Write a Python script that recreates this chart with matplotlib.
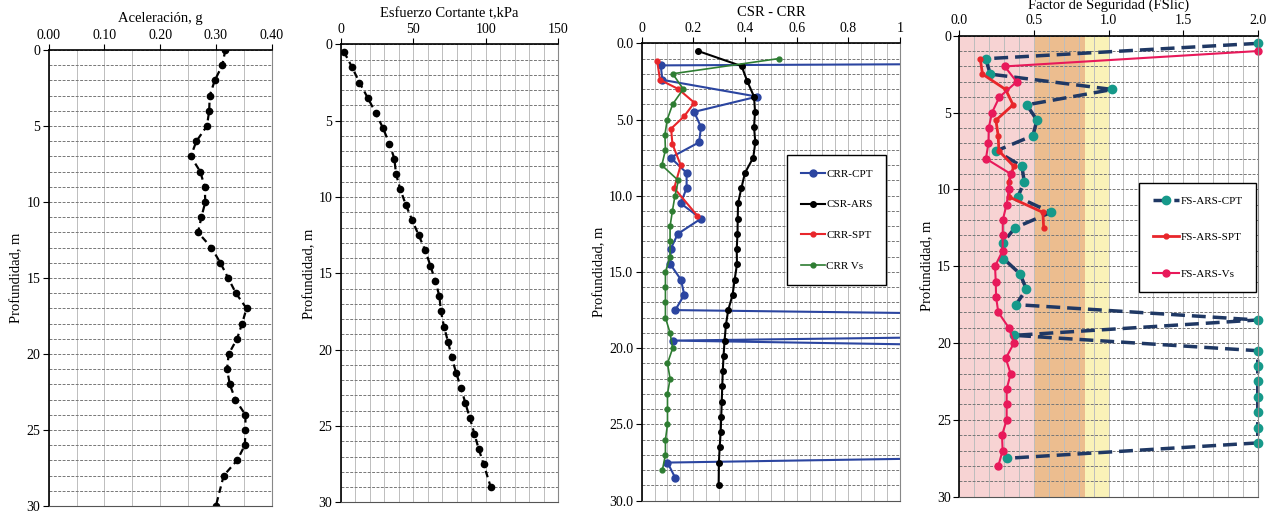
import matplotlib
matplotlib.use("Agg")
import matplotlib.pyplot as plt
from matplotlib.ticker import MultipleLocator, FormatStrFormatter

plt.rcParams["font.family"] = ["Liberation Serif", "DejaVu Serif"]

# --- Aceleracion ---
depth_acel = [0, 1, 2, 3, 4, 5, 6, 7, 8, 9, 10, 11, 12, 13, 14, 15, 16, 17, 18,
              19, 20, 21, 22, 23, 24, 25, 26, 27, 28, 30]
acel = [0.317, 0.3115, 0.298, 0.289, 0.288, 0.284, 0.265, 0.255, 0.272, 0.280,
        0.281, 0.274, 0.268, 0.292, 0.308, 0.322, 0.336, 0.355, 0.347, 0.338,
        0.323, 0.320, 0.325, 0.335, 0.353, 0.353, 0.352, 0.338, 0.314, 0.300]

# --- Esfuerzo cortante ---
depth_tau = [0.5, 1.5, 2.5, 3.5, 4.5, 5.5, 6.5, 7.5, 8.5, 9.5, 10.5, 11.5, 12.5,
             13.5, 14.5, 15.5, 16.5, 17.5, 18.5, 19.5, 20.5, 21.5, 22.5, 23.5,
             24.5, 25.5, 26.5, 27.5, 29.0]
tau = [2.3, 7.8, 12.9, 18.6, 24.1, 29.2, 33.5, 37.0, 38.1, 41.1, 44.8, 49.2,
       53.7, 58.3, 61.8, 65.2, 68.0, 69.1, 71.2, 74.0, 76.5, 79.5, 82.9, 85.9,
       89.1, 92.1, 95.1, 98.5, 103.4]

# --- CSR - CRR ---
depth_csr = depth_tau
csr_ars = [0.217, 0.387, 0.409, 0.435, 0.439, 0.435, 0.440, 0.432, 0.400, 0.386,
           0.373, 0.372, 0.371, 0.368, 0.369, 0.360, 0.352, 0.335, 0.326, 0.321,
           0.317, 0.314, 0.312, 0.310, 0.308, 0.306, 0.302, 0.299, 0.298]

depth_cpt = [0.5, 1.45, 2.4, 3.5, 4.5, 5.5, 6.5, 7.5, 8.5, 9.5, 10.5, 11.5, 12.5,
             13.5, 14.5, 15.5, 16.5, 17.5, 18.5, 19.5, 20.5, 21.5, 22.5, 23.5,
             24.5, 25.5, 26.5, 27.5, 28.5]
crr_cpt = [12.6, 0.074, 0.080, 0.447, 0.203, 0.230, 0.222, 0.112, 0.174, 0.174,
           0.151, 0.230, 0.140, 0.112, 0.111, 0.152, 0.165, 0.130, 4.8, 0.120,
           3.8, 4.0, 4.0, 4.0, 4.0, 4.0, 3.85, 0.100, 0.130]

depth_spt = [1.15, 2.4, 3.0, 3.9, 4.8, 5.6, 6.6, 8.0, 9.5, 11.3]
crr_spt = [0.060, 0.071, 0.142, 0.204, 0.164, 0.114, 0.119, 0.151, 0.126, 0.215]

depth_vs = [1, 2, 3, 4, 5, 6, 7, 8, 9, 10, 11, 12, 13, 14, 15, 16, 17, 18, 19,
            20, 21, 22, 23, 24, 25, 26, 27, 28]
crr_vs = [0.533, 0.120, 0.161, 0.120, 0.099, 0.090, 0.092, 0.078, 0.142, 0.129,
          0.119, 0.110, 0.110, 0.110, 0.092, 0.092, 0.092, 0.092, 0.110, 0.120,
          0.100, 0.110, 0.100, 0.100, 0.100, 0.092, 0.092, 0.080]

# --- Factor de seguridad ---
depth_fs_cpt = [0.5, 1.5, 2.5, 3.5, 4.5, 5.5, 6.5, 7.5, 8.5, 9.5, 10.5, 11.5,
                12.5, 13.5, 14.5, 15.5, 16.5, 17.5, 18.5, 19.5, 20.5, 21.5,
                22.5, 23.5, 24.5, 25.5, 26.5, 27.5]
fs_cpt = [2.0, 0.177, 0.207, 1.026, 0.452, 0.520, 0.493, 0.247, 0.419, 0.435,
          0.392, 0.613, 0.373, 0.290, 0.295, 0.407, 0.449, 0.380, 2.0, 0.369,
          2.0, 2.0, 2.0, 2.0, 2.0, 2.0, 2.0, 0.322]

depth_fs_spt = [1.5, 2.5, 3.5, 4.5, 5.5, 6.5, 7.5, 8.5, 9.5, 10.5, 11.5, 12.5]
fs_spt = [0.140, 0.155, 0.310, 0.360, 0.245, 0.260, 0.265, 0.365, 0.330, 0.335,
          0.560, 0.565]

depth_fs_vs = depth_vs
fs_vs = [2.0, 0.304, 0.384, 0.268, 0.219, 0.197, 0.195, 0.178, 0.345, 0.332,
         0.316, 0.291, 0.291, 0.290, 0.239, 0.244, 0.246, 0.261, 0.331, 0.366,
         0.311, 0.344, 0.317, 0.317, 0.317, 0.286, 0.290, 0.261]


def setup_axis(ax, xmax, xmajor, xminor, xfmt, yfmt, title, labelpad):

    ax.set_xlim(0, xmax)
    ax.set_ylim(30, 0)

    ax.xaxis.set_major_locator(MultipleLocator(xmajor))
    ax.xaxis.set_minor_locator(MultipleLocator(xminor))
    ax.xaxis.set_major_formatter(FormatStrFormatter(xfmt))
    ax.yaxis.set_major_locator(MultipleLocator(5))
    ax.yaxis.set_minor_locator(MultipleLocator(1))
    ax.yaxis.set_major_formatter(FormatStrFormatter(yfmt))

    ax.xaxis.tick_top()
    ax.xaxis.set_label_position("top")
    ax.tick_params(axis="both", which="major", labelsize=10, length=4,
                   direction="out", pad=2)
    ax.tick_params(axis="both", which="minor", length=0)

    ax.set_axisbelow(True)
    ax.grid(True, axis="x", which="both", color="#bdbdbd", linewidth=0.7)
    ax.grid(True, axis="y", which="both", color="#777777", linewidth=0.7,
            linestyle=(0, (3, 1.5)))

    ax.spines["top"].set_color("black")
    ax.spines["left"].set_color("black")
    ax.spines["top"].set_linewidth(1.2)
    ax.spines["left"].set_linewidth(1.2)
    ax.spines["right"].set_color("#888888")
    ax.spines["bottom"].set_color("#555555")

    ax.set_xlabel(title, fontsize=10.5, labelpad=labelpad)
    ax.set_ylabel("Profundidad, m", fontsize=10.5, labelpad=2)


def main():

    fig = plt.figure(figsize=(12.8, 5.12), dpi=100)

    ax1 = fig.add_axes([0.038, 0.0117, 0.1742, 0.8906])
    ax2 = fig.add_axes([0.2662, 0.0189, 0.170, 0.8945])
    ax3 = fig.add_axes([0.5013, 0.0221, 0.2018, 0.8934])
    ax4 = fig.add_axes([0.7495, 0.0299, 0.2331, 0.9004])

    setup_axis(ax1, 0.40, 0.10, 0.05, "%.2f", "%d", "Aceleración, g", 5)
    ax1.plot(acel, depth_acel, color="black", linestyle=(0, (3, 2)),
             linewidth=1.6, marker="o", markersize=4.5)

    setup_axis(ax2, 150, 50, 10, "%d", "%d", "Esfuerzo Cortante t,kPa", 4)
    ax2.plot(tau, depth_tau, color="black", linestyle=(0, (3, 2)),
             linewidth=1.6, marker="o", markersize=4.5)

    setup_axis(ax3, 1.0, 0.2, 0.05, "%g", "%.1f", "CSR - CRR", 4)
    ax3.plot(crr_cpt, depth_cpt, color="#2b45a0", linewidth=1.5, marker="o",
             markersize=5, label="CRR-CPT")
    ax3.plot(csr_ars, depth_csr, color="black", linewidth=1.5, marker="o",
             markersize=4, label="CSR-ARS")
    ax3.plot(crr_spt, depth_spt, color="#e8262b", linewidth=1.5, marker="o",
             markersize=3.5, label="CRR-SPT")
    ax3.plot(crr_vs, depth_vs, color="#2e7d32", linewidth=1.2, marker="o",
             markersize=3.5, label="CRR Vs")
    leg3 = ax3.legend(loc="upper left", bbox_to_anchor=(0.543, 0.767),
                      fontsize=8, labelspacing=1.9, handlelength=2.2,
                      handletextpad=0.1, borderpad=1.2, fancybox=False,
                      edgecolor="black", framealpha=1)
    leg3.get_frame().set_linewidth(1.0)

    setup_axis(ax4, 2.0, 0.5, 0.1, "%.1f", "%d", "Factor de Seguridad (FSlic)", 4)
    ax4.set_xlim(0, 2.0)
    ax4.axvspan(0, 0.5, color="#f7d3d3", zorder=0, linewidth=0)
    ax4.axvspan(0.5, 0.84, color="#ecbd8f", zorder=0, linewidth=0)
    ax4.axvspan(0.84, 1.0, color="#faf2b8", zorder=0, linewidth=0)
    ax4.plot(fs_cpt, depth_fs_cpt, color="#1f3864", linewidth=2.5,
             linestyle=(0, (4, 2)), marker="o", markersize=6,
             markerfacecolor="#16998a", markeredgecolor="#16998a",
             label="FS-ARS-CPT", clip_on=False)
    ax4.plot(fs_spt, depth_fs_spt, color="#e8262b", linewidth=2.0, marker="o",
             markersize=3.5, label="FS-ARS-SPT")
    ax4.plot(fs_vs, depth_fs_vs, color="#e8195a", linewidth=1.5, marker="o",
             markersize=5, label="FS-ARS-Vs", clip_on=False)
    leg4 = ax4.legend(loc="upper left", bbox_to_anchor=(0.585, 0.6935),
                      fontsize=8, labelspacing=2.4, handlelength=2.4,
                      handletextpad=0.1, borderpad=1.2, fancybox=False,
                      edgecolor="black", framealpha=1)
    leg4.get_frame().set_linewidth(1.0)

    fig.savefig("out.png", dpi=100)
    plt.close(fig)


if __name__ == "__main__":
    main()
